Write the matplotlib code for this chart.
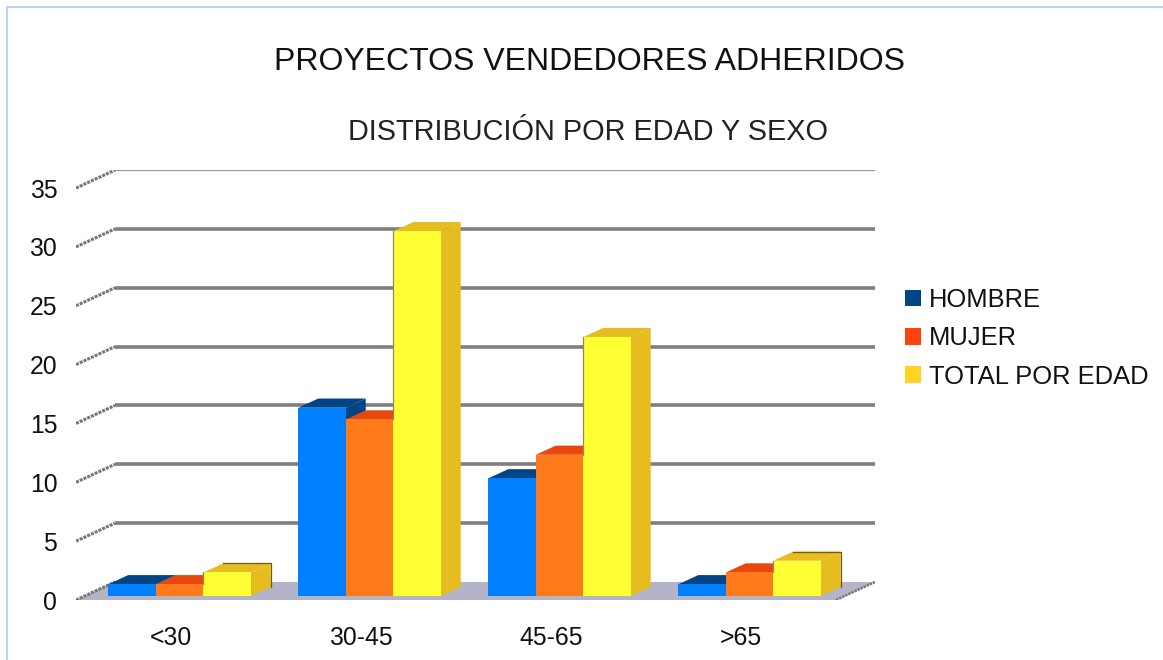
import matplotlib
matplotlib.use('Agg')
import matplotlib.pyplot as plt
from matplotlib.lines import Line2D
from matplotlib.patches import Patch, Polygon

plt.rcParams['font.family'] = ['Liberation Sans', 'DejaVu Sans']

categories = ['<30', '30-45', '45-65', '>65']
hombre = [1, 16, 10, 1]
mujer = [1, 15, 12, 2]
total = [2, 31, 22, 3]
series_names = ['HOMBRE', 'MUJER', 'TOTAL POR EDAD']
y_ticks = [0, 5, 10, 15, 20, 25, 30, 35]

front_colors = ['#0080ff', '#ff7a1a', '#ffff33']
shade_colors = ['#004586', '#e8470f', '#e6bc1e']
legend_colors = ['#004586', '#ff420e', '#ffd320']

# oblique depth, in data units
DX = 0.2053
DY = 1.53
BAR_W = 0.25
D0 = 0.22
D1 = 0.73


def pr(x, y, d):
    return (x + d * DX, y + d * DY)


def draw_bar(ax, x, h, front, shade, z):
    ax.add_patch(Polygon([pr(x, 0, D0), pr(x + BAR_W, 0, D0), pr(x + BAR_W, h, D0), pr(x, h, D0)],
                         fc=front, ec='none', zorder=z + 0.2))
    ax.add_patch(Polygon([pr(x, h, D0), pr(x + BAR_W, h, D0), pr(x + BAR_W, h, D1), pr(x, h, D1)],
                         fc=shade, ec='none', zorder=z))
    ax.add_patch(Polygon([pr(x + BAR_W, 0, D0), pr(x + BAR_W, h, D0), pr(x + BAR_W, h, D1), pr(x + BAR_W, 0, D1)],
                         fc=shade, ec='none', zorder=z + 0.1))


def main():
    fig = plt.figure(figsize=(11.63, 6.6), dpi=100)
    ax = fig.add_axes([76 / 1163, 60 / 660, 799 / 1163, 430 / 660])
    ax.set_xlim(0, 799 / 190)
    ax.set_ylim(0, 430 / 11.77)
    n = len(categories)

    ax.add_patch(Polygon([pr(0, 0, 0), pr(n, 0, 0), pr(n, 0, 1), pr(0, 0, 1)], fc='#b4b4c8', ec='none', zorder=1))

    for v in y_ticks:
        if v > 0:
            x0, y0 = pr(0, v, 1)
            x1, y1 = pr(n, v, 1)
            lw = 1.6 if v == 35 else 2.6
            col = '#9a9a9a' if v == 35 else '#7f7f7f'
            ax.plot([x0, x1], [y0, y1], color=col, lw=lw, zorder=2, solid_capstyle='butt')
        a = pr(0, v, 0)
        b = pr(0, v, 1)
        ax.plot([a[0], b[0]], [a[1], b[1]], color='#777777', lw=2.2, ls=(0, (1.0, 0.35)), zorder=2)
    a = pr(n, 0, 0)
    b = pr(n, 0, 1)
    ax.plot([a[0], b[0]], [a[1], b[1]], color='#777777', lw=1.8, ls=(0, (1.0, 0.35)), zorder=2)

    groups = [hombre, mujer, total]
    for i in range(n):
        for j in range(3):
            x = i + 0.5 - 1.5 * BAR_W + j * BAR_W
            h = groups[j][i]
            draw_bar(ax, x, h, front_colors[j], shade_colors[j], 3 + j)
            # the short yellow boxes have a dark outline at the back
            if j == 2 and h < 5:
                p0 = pr(x, h, D1)
                p1 = pr(x + BAR_W, h, D1)
                p2 = pr(x + BAR_W, 0, D1)
                ax.plot([p0[0], p1[0], p2[0]], [p0[1], p1[1], p2[1]], color='#6e5c14', lw=0.9, zorder=5.3)
            # thin grey edge where the yellow bar rises above the orange one
            if j == 2 and h > mujer[i]:
                p0 = pr(x, mujer[i], D0)
                p1 = pr(x, h, D0)
                ax.plot([p0[0], p1[0]], [p0[1], p1[1]], color='#8d8d55', lw=0.9, zorder=5.4)

    ax.set_xticks([i + 0.5 for i in range(n)])
    ax.set_xticklabels(categories, fontsize=17.8, color='#111111')
    ax.set_yticks(y_ticks)
    ax.set_yticklabels([str(v) for v in y_ticks], fontsize=17.8, color='#111111')
    ax.tick_params(axis='both', length=0)
    ax.tick_params(axis='y', pad=13.5)
    ax.tick_params(axis='x', pad=18.5)
    for s in ax.spines.values():
        s.set_visible(False)
    ax.patch.set_visible(False)

    fig.text(590 / 1163, 1 - 62 / 660, 'PROYECTOS VENDEDORES ADHERIDOS', fontsize=23,
             ha='center', va='center', color='#111111')
    fig.text(588.5 / 1163, 1 - 132 / 660, 'DISTRIBUCIÓN POR EDAD Y SEXO', fontsize=20.8,
             ha='center', va='center', color='#222222')

    handles = [Patch(fc=c, ec='none') for c in legend_colors]
    fig.legend(handles, series_names, loc='upper left', bbox_to_anchor=(905 / 1163, 1 - 288 / 660),
               frameon=False, fontsize=18.4, handlelength=0.61, handleheight=0.61, handletextpad=0.31,
               labelspacing=0.56, borderpad=0, borderaxespad=0, labelcolor='#111111')

    # thin blue frame of the screenshot
    fig.add_artist(Line2D([7 / 1163, 7 / 1163], [0, 1 - 7 / 660], color='#bcd3f5', lw=1.5))
    fig.add_artist(Line2D([7 / 1163, 1], [1 - 7 / 660, 1 - 7 / 660], color='#bcd3f5', lw=1.5))

    plt.savefig('out.png', dpi=100)
    plt.close()


if __name__ == '__main__':
    main()
